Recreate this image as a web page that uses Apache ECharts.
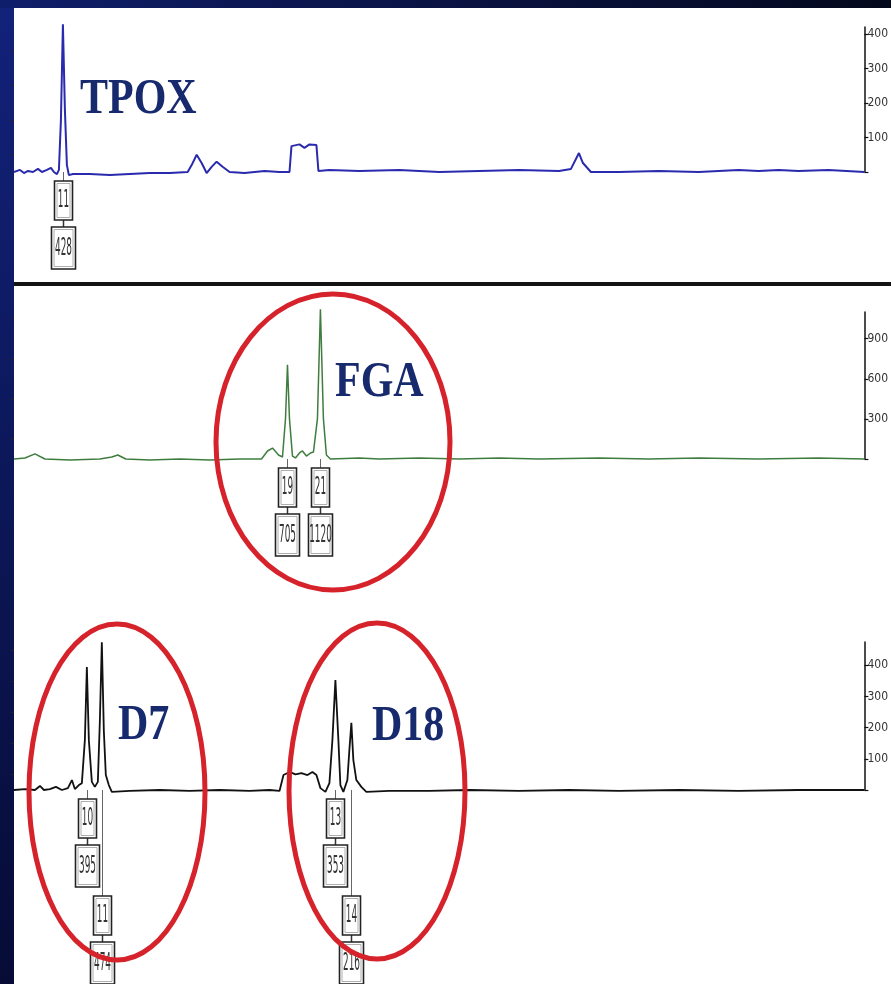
<!DOCTYPE html>
<html><head><meta charset="utf-8">
<script src="https://cdn.jsdelivr.net/npm/echarts@6.0.0/dist/echarts.min.js"></script>
<style>html,body{margin:0;padding:0;background:#fff;}#chart{width:891px;height:984px;}</style>
</head><body><div id="chart"></div>
<script>
// ---------- DATA ----------
// x in scan units, y in RFU
const tpoxTrace = [[0,0],[6,6],[10,-3],[14,3],[19,0],[24,9],[28,0],[33,6],[37,12],[40,0],[43,-6],[45,6],[47,150],[49,428],[51,180],[53,20],[55,-9],[59,-6],[76,-6],[96,-9],[116,-6],[136,-3],[156,-3],[174,0],[178,20],[183,50],[188,26],[193,-3],[198,15],[203,30],[209,15],[216,0],[231,-3],[251,3],[266,0],[276,0],[278,75],[286,80],[291,70],[296,80],[303,78],[305,3],[316,6],[346,3],[386,6],[426,0],[466,3],[506,6],[546,3],[558,9],[566,55],[570,26],[578,0],[606,0],[646,3],[686,0],[726,6],[746,3],[766,6],[786,3],[816,6],[852,0]];
const fgaTrace = [[0,0],[11,8],[21,38],[31,0],[56,-8],[86,0],[98,15],[104,30],[112,0],[136,-8],[166,0],[196,-8],[226,0],[248,0],[254,60],[259,82],[265,30],[269,15],[272,300],[274,705],[276,300],[279,22],[282,8],[286,45],[289,60],[293,22],[297,45],[300,52],[304,300],[307,1120],[310,300],[313,30],[317,0],[346,8],[366,0],[406,8],[446,0],[486,8],[526,0],[586,8],[636,0],[686,8],[746,0],[806,8],[852,0]];
const d7d18Trace = [[0,0],[11,3],[21,0],[26,13],[30,0],[36,3],[42,10],[48,0],[54,6],[58,32],[61,3],[65,16],[68,22],[71,160],[73,395],[75,160],[78,26],[81,10],[84,26],[86,220],[88,474],[90,190],[92,48],[95,16],[98,-6],[116,-3],[146,0],[176,-3],[206,0],[236,-3],[256,0],[266,-3],[270,48],[276,58],[282,50],[288,54],[294,48],[299,58],[303,48],[307,6],[312,-6],[316,22],[319,160],[322,353],[325,160],[327,16],[330,-6],[334,32],[336,128],[338,216],[340,96],[343,32],[348,10],[353,-6],[376,-3],[416,-3],[456,0],[506,-3],[556,0],[606,-3],[666,0],[726,-3],[786,0],[852,0]];

const tpoxPeakX = [49];        const tpoxAlleles = ['11'];        const tpoxHeights = [428];
const fgaPeakX = [274, 307];   const fgaAlleles = ['19','21'];    const fgaHeights = [705, 1120];
const d7PeakX = [73, 88];      const d7Alleles = ['10','11'];     const d7Heights = [395, 474];
const d18PeakX = [322, 338];   const d18Alleles = ['13','14'];    const d18Heights = [353, 216];

const panelMax = [420, 1100, 475];
const tpoxTicks = [100, 200, 300, 400];
const fgaTicks = [300, 600, 900];
const d7Ticks = [100, 200, 300, 400];
const tpoxMinor = [50, 150, 250, 350];
const fgaMinor = [150, 450, 750, 1050];
const d7Minor = [50, 150, 250, 350, 450];

const lociNames = ['TPOX', 'FGA', 'D7', 'D18'];

// ---------- CHART ----------
const narrow = '"Liberation Sans Narrow","DejaVu Sans Condensed","Arial Narrow",sans-serif';
const chart = echarts.init(document.getElementById('chart'), null, {renderer:'canvas'});

const grids = [
  {left:14, right:25, top:27, height:145},
  {left:14, right:25, top:312, height:147},
  {left:14, right:25, top:642, height:148}
];
const ticksArr = [tpoxTicks, fgaTicks, d7Ticks];
const minorArr = [tpoxMinor, fgaMinor, d7Minor];

const xAxes = grids.map((g,i)=>({gridIndex:i, type:'value', min:0, max:852, show:false}));
const yAxes = [];
grids.forEach((g,i)=>{
  yAxes.push({
    gridIndex:i, type:'value', position:'right', min:0, max:panelMax[i],
    axisLine:{show:true, onZero:false, lineStyle:{color:'#111', width:1.5}},
    axisTick:{show:true, inside:false, length:4, customValues:[0].concat(ticksArr[i]), lineStyle:{color:'#111', width:1.2}},
    axisLabel:{show:true, customValues:ticksArr[i], margin:3, fontSize:12, color:'#333', fontFamily:narrow},
    splitLine:{show:false}
  });
  yAxes.push({
    gridIndex:i, type:'value', position:'right', min:0, max:panelMax[i],
    axisLine:{show:false},
    axisTick:{show:true, inside:true, length:3, customValues:minorArr[i], lineStyle:{color:'#222'}},
    axisLabel:{show:false}, splitLine:{show:false}
  });
});

function traceSeries(g, data, color, width){
  return {type:'line', xAxisIndex:g, yAxisIndex:g*2, data:data, symbol:'none', clip:false,
    lineStyle:{color:color, width:width}, z:3, silent:true, animation:false};
}

function labelSeries(g, peakX, alleles, heights){
  return {
    type:'custom', xAxisIndex:g, yAxisIndex:g*2, clip:false, z:4, silent:true, animation:false,
    data: peakX.map((x,i)=>[x, heights[i]]),
    renderItem(params, api){
      const i = params.dataIndex;
      const p = api.coord([api.value(0), 0]);
      let shift = 0;
      if (i > 0) {
        const q = api.coord([peakX[i-1], 0]);
        if (p[0] - q[0] < 24) shift = 97;
      }
      const cx = Math.round(p[0]) + 0.5, by = p[1];
      const w1 = 18, h1 = 39, w2 = 24, h2 = 42;
      const t1 = by + 9 + shift, t2 = by + 55 + shift;
      const box = (w, h, t) => ([
        {type:'rect', shape:{x:cx - w/2, y:t, width:w, height:h}, style:{fill:'#fff', stroke:'#222', lineWidth:1.6}},
        {type:'rect', shape:{x:cx - w/2 + 2.5, y:t + 2.5, width:w - 5, height:h - 5}, style:{fill:'none', stroke:'#9a9a9a', lineWidth:0.8}}
      ]);
      const txt = (s, cy) => ({type:'text', x:cx, y:cy, scaleX:0.9, scaleY:2.3, originX:0, originY:0,
        style:{text:s, x:0, y:0, align:'center', verticalAlign:'middle', font:'11px ' + narrow, fill:'#333'}});
      return {type:'group', children:[
        {type:'line', shape:{x1:cx, y1:by, x2:cx, y2:t1}, style:{stroke:'#666', lineWidth:1}},
        {type:'line', shape:{x1:cx, y1:t1 + h1, x2:cx, y2:t2}, style:{stroke:'#333', lineWidth:1.5}},
        ...box(w1, h1, t1), txt(alleles[i], t1 + h1/2),
        ...box(w2, h2, t2), txt(String(heights[i]), t2 + h2/2)
      ]};
    }
  };
}

const serif = 'bold 42px "Liberation Serif","Times New Roman",serif';
const nameColor = '#172a6e';
const nameText = (s, x, y) => ({type:'text', x:x, y:y, scaleY:1.2, z:50,
  style:{text:s, x:0, y:0, align:'left', verticalAlign:'middle', font:serif, fill:nameColor}});
const ring = (cx, cy, rx, ry) => ({type:'ellipse', z:60, shape:{cx:cx, cy:cy, rx:rx, ry:ry},
  style:{fill:'none', stroke:'#d6232b', lineWidth:5}});

const option = {
  backgroundColor:'#ffffff',
  animation:false,
  grid: grids,
  xAxis: xAxes,
  yAxis: yAxes,
  series: [
    traceSeries(0, tpoxTrace, '#2a2aae', 2),
    traceSeries(1, fgaTrace, '#3f7d3f', 1.5),
    traceSeries(2, d7d18Trace, '#111111', 1.8),
    labelSeries(0, tpoxPeakX, tpoxAlleles, tpoxHeights),
    labelSeries(1, fgaPeakX, fgaAlleles, fgaHeights),
    labelSeries(2, d7PeakX, d7Alleles, d7Heights),
    labelSeries(2, d18PeakX, d18Alleles, d18Heights)
  ],
  graphic: [
    {type:'rect', z:-10, shape:{x:0, y:0, width:14, height:984},
      style:{fill:new echarts.graphic.LinearGradient(0,0,0,1,[{offset:0,color:'#12227a'},{offset:1,color:'#060c36'}])}},
    {type:'rect', z:-10, shape:{x:0, y:0, width:891, height:8},
      style:{fill:new echarts.graphic.LinearGradient(0,0,1,0,[{offset:0,color:'#0f1e6a'},{offset:1,color:'#04081c'}])}},
    {type:'rect', z:-5, shape:{x:14, y:282, width:877, height:4}, style:{fill:'#141414'}},
    nameText(lociNames[0], 80, 100),
    nameText(lociNames[1], 335, 383),
    nameText(lociNames[2], 118, 726),
    nameText(lociNames[3], 372, 727),
    ring(333, 442, 117, 148),
    ring(117, 792, 88, 168),
    ring(377, 791, 88, 168)
  ]
};
chart.setOption(option);
</script>
</body></html>
